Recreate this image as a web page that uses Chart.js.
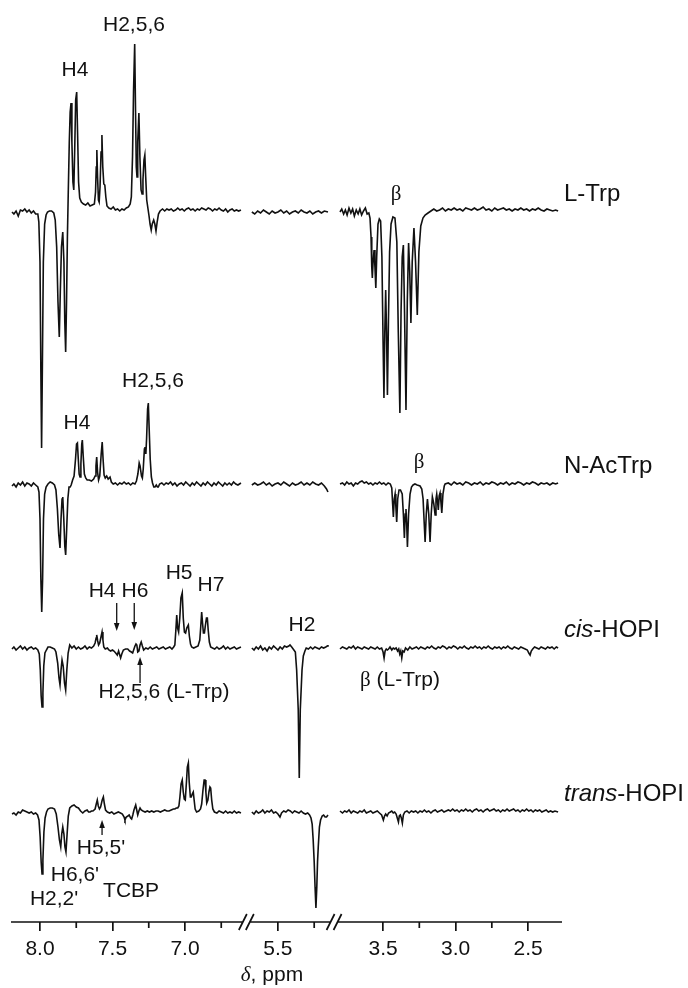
<html>
<script src="https://cdn.jsdelivr.net/npm/chart.js@4.4.0/dist/chart.umd.min.js"></script>
<body style="margin:0;background:#fff">
<div style="width:688px;height:988px"><canvas id="nmr"></canvas></div>
<script>
// axis ticks (ppm)
const tickPpm = [8.0, 7.5, 7.0, 5.5, 3.5, 3.0, 2.5];
const minorPpm = [7.75, 7.25, 6.75, 5.25, 3.25, 2.75];
const spectra = ['L-Trp', 'N-AcTrp', 'cis-HOPI', 'trans-HOPI'];
const baselines = [710, 438, 274, 110];

// [ppm, intensity], three windows per spectrum
const ltrpA = [[8.193,0],[8.18,-2],[8.165,1],[8.15,-4],[8.135,2],[8.12,1],[8.105,3],[8.09,0],[8.075,2],[8.06,-1],[8.045,1],[8.03,-2],[8.015,-2],
  [8.008,-10],[8.0,-50],[7.994,-160],[7.989,-236],[7.984,-160],[7.977,-50],[7.968,-12],[7.958,-3],[7.948,0],[7.935,1],[7.92,1],[7.905,-1],[7.895,-8],[7.885,-35],[7.876,-90],[7.867,-125],[7.86,-80],[7.852,-35],[7.843,-20],[7.835,-50],[7.829,-110],[7.823,-140],[7.817,-90],[7.811,-25],
  [7.805,20],[7.798,70],[7.792,100],[7.786,109],[7.78,70],[7.773,30],[7.767,22],[7.761,60],[7.754,112],[7.747,120],[7.741,80],[7.734,30],[7.726,14],[7.715,10],[7.70,8],[7.685,7],[7.67,9],[7.655,6],[7.64,7],[7.625,8],
  [7.617,20],[7.612,45],[7.608,62],[7.603,35],[7.597,12],[7.592,10],[7.586,25],[7.579,60],[7.573,77],[7.567,45],[7.56,28],[7.553,27],[7.546,15],[7.538,6],[7.525,4],[7.51,3],[7.495,5],[7.48,2],[7.465,3],[7.45,1],[7.435,3],[7.42,2],[7.405,4],[7.39,5],
  [7.378,8],[7.37,15],[7.362,55],[7.355,120],[7.347,168],[7.341,100],[7.336,45],[7.331,35],[7.326,70],[7.318,99],[7.311,55],[7.303,22],[7.296,18],[7.29,32],[7.283,52],[7.277,57],[7.271,35],[7.264,12],[7.256,4],[7.248,-4],[7.241,-12],[7.233,-18],[7.226,-12],[7.216,-8],[7.208,-12],[7.2,-19],[7.192,-10],[7.183,-2],[7.172,1],
  [7.155,3],[7.14,1],[7.125,3],[7.11,2],[7.095,3],[7.08,1],[7.065,2],[7.05,4],[7.035,2],[7.02,3],[7.005,1],[6.99,3],[6.975,4],[6.96,2],[6.945,3],[6.93,1],[6.915,3],[6.9,2],[6.885,4],[6.87,3],[6.855,2],[6.84,4],[6.825,3],[6.81,1],[6.795,3],[6.78,2],[6.765,4],[6.75,2],[6.735,1],[6.72,3],[6.705,0],[6.69,2],[6.675,3],[6.66,1],[6.645,2],[6.63,1],[6.614,2]];
const ltrpB = [[5.68,0],[5.66,-2],[5.64,1],[5.62,-1],[5.60,2],[5.58,0],[5.56,-2],[5.54,1],[5.52,-1],[5.50,0],[5.48,2],[5.46,-1],[5.44,1],[5.42,-2],[5.40,0],[5.38,1],[5.36,-1],[5.34,2],[5.32,0],[5.30,-1],[5.28,1],[5.26,-2],[5.24,0],[5.22,1],[5.20,-1],[5.18,1],[5.155,0]];
const ltrpC = [[3.797,0],[3.785,3],[3.772,-2],[3.76,2],[3.748,-3],[3.735,4],[3.722,-1],[3.71,3],[3.698,-4],[3.685,2],[3.672,-2],[3.66,3],[3.648,-3],[3.635,1],[3.622,4],[3.61,-2],[3.598,-1],[3.59,-6],
  [3.583,-25],[3.578,-55],[3.574,-66],[3.569,-50],[3.562,-38],[3.556,-55],[3.55,-76],[3.544,-45],[3.535,-12],[3.526,-7],[3.517,-9],[3.508,-45],[3.5,-130],[3.494,-186],[3.488,-120],[3.482,-78],[3.476,-120],[3.47,-183],[3.463,-110],[3.455,-40],[3.445,-12],[3.432,-5],[3.418,-6],
  [3.405,-30],[3.395,-120],[3.384,-201],[3.376,-100],[3.368,-45],[3.36,-33],[3.352,-100],[3.342,-198],[3.333,-90],[3.324,-31],[3.316,-60],[3.308,-111],[3.299,-50],[3.287,-16],[3.276,-50],[3.264,-103],[3.253,-40],[3.24,-14],[3.225,-6],[3.21,-3],[3.19,-1],[3.17,1],
  [3.15,3],[3.13,1],[3.11,2],[3.09,4],[3.07,1],[3.05,3],[3.03,2],[3.01,4],[2.99,2],[2.97,3],[2.95,1],[2.93,4],[2.91,3],[2.89,2],[2.87,4],[2.85,2],[2.83,3],[2.81,5],[2.79,2],[2.77,3],[2.75,1],[2.73,4],[2.71,2],[2.69,3],[2.67,4],[2.65,2],[2.63,3],[2.61,1],[2.59,3],[2.57,2],[2.55,4],[2.53,2],[2.51,3],[2.49,1],[2.47,3],[2.45,2],[2.43,4],[2.41,2],[2.39,1],[2.37,3],[2.35,2],[2.33,1],[2.31,2],[2.293,1]];

const nacA = [[8.193,-2],[8.18,0],[8.165,-3],[8.15,1],[8.135,-1],[8.12,2],[8.105,-2],[8.09,1],[8.075,0],[8.06,-2],[8.045,1],[8.03,-1],[8.015,-3],[8.007,-8],[8.0,-35],[7.994,-95],[7.988,-128],[7.982,-95],[7.976,-35],[7.968,-10],[7.958,-3],[7.945,0],[7.93,2],[7.915,1],[7.90,-1],
  [7.89,-6],[7.88,-25],[7.871,-50],[7.862,-64],[7.855,-35],[7.848,-15],[7.843,-13],[7.836,-35],[7.829,-62],[7.823,-71],[7.816,-45],[7.808,-15],[7.8,-3],[7.792,-3],[7.785,-1],[7.775,4],[7.765,8],[7.755,25],[7.748,40],[7.742,41],[7.736,25],[7.73,10],[7.724,7],[7.718,20],[7.712,40],[7.708,44],[7.702,28],[7.694,10],[7.685,6],[7.675,4],[7.66,4],[7.645,3],[7.63,5],
  [7.62,8],[7.614,18],[7.609,27],[7.603,12],[7.596,4],[7.588,8],[7.578,30],[7.571,42],[7.565,25],[7.558,9],[7.55,6],[7.54,8],[7.53,5],[7.517,7],[7.508,2],[7.495,0],[7.48,1],[7.465,-1],[7.45,1],[7.435,0],[7.42,2],[7.405,0],[7.39,1],[7.375,-1],[7.36,1],[7.345,0],
  [7.335,3],[7.325,10],[7.316,21],[7.31,18],[7.3,8],[7.294,6],[7.288,15],[7.28,35],[7.276,37],[7.27,30],[7.265,45],[7.258,75],[7.253,81],[7.247,55],[7.24,25],[7.232,7],[7.224,1],[7.215,-3],[7.207,-3],[7.198,-1],[7.19,-3],[7.184,-3],[7.175,0],[7.16,1],
  [7.145,-1],[7.13,1],[7.115,0],[7.10,2],[7.085,-1],[7.07,1],[7.055,-2],[7.04,0],[7.025,1],[7.01,-1],[6.995,2],[6.98,0],[6.965,-2],[6.95,1],[6.935,-1],[6.92,2],[6.905,0],[6.89,-2],[6.875,1],[6.86,-1],[6.845,2],[6.83,0],[6.815,-2],[6.80,1],[6.785,-1],[6.77,2],[6.755,0],[6.74,-2],[6.725,1],[6.71,-1],[6.695,1],[6.68,-1],[6.665,2],[6.65,0],[6.635,-1],[6.614,1]];
const nacB = [[5.68,-1],[5.66,1],[5.64,-1],[5.62,0],[5.60,2],[5.58,-1],[5.56,1],[5.54,-2],[5.52,0],[5.50,1],[5.48,-1],[5.46,2],[5.44,0],[5.42,-2],[5.40,1],[5.38,-1],[5.36,0],[5.34,2],[5.32,-1],[5.30,1],[5.28,-1],[5.26,2],[5.24,0],[5.22,-1],[5.20,1],[5.18,-2],[5.165,-5],[5.155,-8]];
const nacC = [[3.797,0],[3.78,1],[3.765,-1],[3.75,2],[3.735,0],[3.72,1],[3.705,-2],[3.69,1],[3.675,0],[3.66,2],[3.645,3],[3.63,1],[3.615,2],[3.60,0],[3.585,1],[3.57,-1],[3.555,1],[3.54,0],[3.525,2],[3.51,0],[3.495,1],[3.48,-1],[3.465,1],[3.45,0],
  [3.44,-4],[3.434,-20],[3.429,-33],[3.423,-15],[3.417,-10],[3.412,-22],[3.406,-38],[3.399,-15],[3.39,-6],[3.38,-6],[3.368,-10],[3.36,-30],[3.353,-54],[3.347,-30],[3.342,-25],[3.337,-40],[3.332,-63],[3.324,-30],[3.314,-10],[3.304,-3],[3.293,-1],[3.28,0],[3.265,-1],[3.245,-2],
  [3.233,-5],[3.224,-15],[3.216,-40],[3.21,-58],[3.202,-30],[3.194,-15],[3.185,-30],[3.176,-58],[3.168,-30],[3.16,-13],[3.15,-20],[3.141,-31],[3.135,-15],[3.13,-10],[3.124,-18],[3.119,-26],[3.113,-12],[3.107,-9],[3.101,-18],[3.095,-29],[3.087,-10],[3.078,-2],[3.072,0],
  [3.05,1],[3.03,-1],[3.01,2],[2.99,0],[2.97,1],[2.95,-1],[2.93,2],[2.91,1],[2.89,-1],[2.87,1],[2.85,0],[2.83,2],[2.81,-1],[2.79,1],[2.77,0],[2.75,2],[2.73,1],[2.71,-1],[2.69,1],[2.67,0],[2.65,2],[2.63,-1],[2.61,1],[2.59,0],[2.57,2],[2.55,1],[2.53,-1],[2.51,1],[2.49,0],[2.47,2],[2.45,1],[2.43,-1],[2.41,1],[2.39,0],[2.37,1],[2.35,-1],[2.33,1],[2.31,0],[2.293,1]];

const cisA = [[8.193,-1],[8.18,1],[8.165,-2],[8.15,0],[8.135,2],[8.12,-1],[8.105,1],[8.09,-2],[8.075,0],[8.06,1],[8.045,-1],[8.03,0],[8.015,-2],[8.005,-6],[7.998,-22],[7.992,-48],[7.986,-59],[7.98,-45],[7.974,-18],[7.966,-5],[7.956,-2],[7.945,1],[7.93,1],[7.915,0],[7.90,-1],
  [7.89,-4],[7.878,-15],[7.869,-30],[7.862,-37],[7.855,-22],[7.848,-12],[7.84,-18],[7.831,-35],[7.823,-42],[7.815,-22],[7.806,-5],[7.795,3],[7.78,0],[7.765,2],[7.75,-1],[7.735,1],[7.72,-1],[7.705,0],[7.69,2],[7.675,-1],[7.66,1],[7.645,0],[7.63,2],
  [7.62,5],[7.613,10],[7.609,13],[7.602,7],[7.596,3],[7.588,5],[7.578,12],[7.572,16],[7.566,8],[7.56,1],[7.55,-1],[7.535,0],[7.525,-2],[7.513,-3],[7.5,-2],[7.49,-3],[7.478,-5],[7.467,-7],[7.458,-3],[7.452,-6],[7.444,-10],[7.436,-6],[7.425,-2],[7.41,-1],[7.395,-1],[7.382,-3],[7.37,-4],[7.361,-5],[7.352,-1],[7.345,2],[7.338,4],[7.332,3],[7.326,-4],[7.318,-3],[7.31,3],[7.302,6],[7.294,2],[7.285,-2],
  [7.27,0],[7.255,-1],[7.24,1],[7.225,-1],[7.21,0],[7.195,1],[7.18,-1],[7.165,0],[7.15,1],[7.135,-1],[7.12,0],[7.105,1],[7.09,-1],[7.078,1],
  [7.07,3],[7.063,18],[7.057,33],[7.051,20],[7.044,16],[7.036,30],[7.028,50],[7.019,55],[7.012,30],[7.004,16],[6.996,15],[6.988,20],[6.977,23],[6.97,12],[6.962,4],[6.954,1],[6.94,0],[6.925,1],[6.91,2],
  [6.898,8],[6.892,20],[6.885,36],[6.879,25],[6.873,15],[6.866,15],[6.86,22],[6.852,30],[6.846,30],[6.84,18],[6.832,6],[6.823,1],[6.81,0],[6.795,-1],[6.78,1],[6.765,-1],[6.75,0],[6.735,2],[6.72,-1],[6.705,1],[6.69,-1],[6.675,0],[6.66,1],[6.645,-1],[6.63,0],[6.614,1]];
const cisB = [[5.68,0],[5.665,-2],[5.65,1],[5.635,-1],[5.62,2],[5.605,-2],[5.59,0],[5.575,-3],[5.56,1],[5.545,-1],[5.53,2],[5.515,0],[5.50,-2],[5.485,1],[5.47,-1],[5.455,2],[5.44,1],[5.425,2],[5.417,3],[5.405,1],[5.39,-2],
  [5.38,-4],[5.371,-22],[5.36,-62],[5.353,-130],[5.346,-62],[5.334,-22],[5.325,-8],[5.314,-3],[5.305,0],[5.29,-1],[5.275,1],[5.26,-1],[5.245,1],[5.23,0],[5.215,-1],[5.20,1],[5.185,0],[5.17,1],[5.16,2],[5.155,3]];
const cisC = [[3.797,-1],[3.78,1],[3.765,0],[3.75,-1],[3.735,1],[3.72,0],[3.705,2],[3.69,-1],[3.675,1],[3.66,0],[3.645,-1],[3.63,1],[3.615,0],[3.60,-1],[3.585,1],[3.57,0],[3.555,-1],[3.54,1],[3.525,-1],[3.51,0],
  [3.5,-4],[3.493,-10],[3.486,-3],[3.478,-1],[3.47,-2],[3.462,-1],[3.452,1],[3.44,-2],[3.43,0],[3.42,-1],[3.41,0],[3.4,-3],[3.392,-1],[3.385,-6],[3.378,-3],[3.371,-10],[3.364,-3],[3.355,-4],[3.345,0],[3.33,-2],[3.315,1],[3.30,-1],[3.285,0],[3.27,1],
  [3.255,-1],[3.24,1],[3.225,0],[3.21,-1],[3.195,1],[3.18,0],[3.165,2],[3.15,0],[3.135,-1],[3.12,1],[3.105,0],[3.09,2],[3.075,1],[3.06,-1],[3.045,1],[3.03,0],[3.015,2],[3.0,1],[2.985,-1],[2.97,1],[2.955,0],[2.94,2],[2.925,0],[2.91,-1],[2.895,1],[2.88,0],[2.865,2],[2.85,0],[2.835,1],[2.82,-1],[2.805,1],[2.79,0],[2.775,2],[2.76,0],[2.745,-1],[2.73,1],[2.715,0],[2.70,1],[2.685,-1],[2.67,1],[2.655,0],[2.64,2],[2.625,0],[2.61,-1],[2.595,1],[2.58,0],[2.565,-1],[2.55,1],[2.535,0],[2.52,-1],
  [2.505,-2],[2.495,-5],[2.486,-7],[2.478,-3],[2.468,-1],[2.455,1],[2.44,0],[2.425,-1],[2.41,1],[2.395,0],[2.38,-1],[2.365,1],[2.35,0],[2.335,1],[2.32,-1],[2.305,1],[2.293,0]];

const transA = [[8.193,-2],[8.18,-1],[8.165,-3],[8.15,0],[8.135,-1],[8.12,2],[8.105,1],[8.09,0],[8.075,-1],[8.06,0],[8.045,-2],[8.03,-1],[8.017,-3],[8.007,-8],[7.999,-25],[7.992,-50],[7.986,-62],[7.98,-48],[7.973,-20],[7.965,-6],[7.955,0],[7.945,3],[7.93,4],[7.915,4],[7.90,3],
  [7.888,-2],[7.876,-15],[7.866,-28],[7.857,-35],[7.85,-22],[7.843,-15],[7.835,-22],[7.828,-35],[7.821,-40],[7.813,-22],[7.805,-4],[7.795,4],[7.78,6],[7.765,7],[7.75,5],[7.735,4],[7.72,1],[7.705,-1],[7.69,1],[7.675,2],[7.665,0],[7.655,0],[7.645,1],[7.635,1],
  [7.62,3],[7.612,8],[7.605,12],[7.598,6],[7.59,3],[7.582,5],[7.571,12],[7.563,15],[7.556,8],[7.548,2],[7.535,0],[7.52,-1],[7.505,0],[7.49,-2],[7.475,-1],[7.46,0],[7.445,-1],[7.432,-2],[7.42,-5],[7.414,-8],[7.405,-5],[7.394,-4],[7.385,-3],[7.375,-6],[7.368,-7],[7.36,-3],[7.352,2],[7.34,7],[7.333,2],[7.326,-3],[7.318,1],[7.31,4],[7.302,2],[7.29,1],
  [7.275,0],[7.26,1],[7.245,0],[7.23,1],[7.215,0],[7.2,1],[7.185,1],[7.17,0],[7.155,1],[7.14,2],[7.125,1],[7.11,1],[7.095,2],[7.08,3],[7.07,3],[7.06,4],[7.05,4],
  [7.042,6],[7.035,15],[7.027,28],[7.019,32],[7.012,20],[7.005,13],[6.998,12],[6.99,30],[6.984,45],[6.977,49],[6.971,30],[6.963,15],[6.957,15],[6.95,18],[6.943,20],[6.937,12],[6.93,3],[6.92,0],[6.905,1],
  [6.893,3],[6.885,8],[6.876,22],[6.868,32],[6.862,32],[6.856,20],[6.85,9],[6.842,12],[6.835,20],[6.828,25],[6.823,24],[6.816,12],[6.808,3],[6.797,0],[6.78,-1],[6.765,1],[6.75,0],[6.735,-1],[6.72,1],[6.705,-1],[6.69,0],[6.675,-1],[6.66,1],[6.645,-1],[6.63,0],[6.614,-1]];
const transB = [[5.68,0],[5.665,-2],[5.65,1],[5.635,-1],[5.62,0],[5.605,2],[5.59,-1],[5.575,1],[5.56,0],[5.545,2],[5.53,-1],[5.515,0],[5.50,-2],[5.486,-5],[5.475,-1],[5.46,1],[5.445,0],[5.43,2],[5.415,1],[5.40,-1],[5.385,1],[5.37,0],[5.355,-1],[5.34,1],[5.325,-1],[5.31,-2],[5.295,-1],
  [5.282,-3],[5.272,-6],[5.264,-12],[5.257,-28],[5.25,-50],[5.244,-75],[5.238,-96],[5.232,-75],[5.227,-50],[5.222,-35],[5.214,-15],[5.206,-8],[5.195,-4],[5.185,-3],[5.175,-5],[5.165,-5],[5.155,-3]];
const transC = [[3.797,1],[3.78,-1],[3.765,1],[3.75,0],[3.735,2],[3.72,-1],[3.705,1],[3.69,0],[3.675,-1],[3.66,1],[3.645,0],[3.63,2],[3.615,-1],[3.60,0],[3.585,1],[3.57,-1],[3.555,0],[3.54,1],[3.525,-1],
  [3.51,-3],[3.498,-8],[3.49,-4],[3.482,-2],[3.472,-4],[3.462,-1],[3.45,0],[3.44,1],[3.43,-1],[3.42,0],[3.41,-2],[3.402,-6],[3.394,-10],[3.388,-4],[3.381,-3],[3.374,-6],[3.367,-11],[3.36,-3],[3.35,0],
  [3.335,1],[3.32,-1],[3.305,1],[3.29,0],[3.275,1],[3.26,-1],[3.245,1],[3.23,0],[3.215,2],[3.2,0],[3.185,1],[3.17,-1],[3.155,1],[3.14,2],[3.125,0],[3.11,1],[3.095,2],[3.08,0],[3.065,1],[3.05,2],[3.035,1],[3.02,3],[3.005,1],[2.99,2],[2.975,0],[2.96,2],[2.945,1],[2.93,3],[2.915,1],[2.90,2],[2.885,0],[2.87,2],[2.855,3],[2.84,1],[2.825,2],[2.81,0],[2.795,2],[2.78,3],[2.765,1],[2.75,2],[2.735,3],[2.72,1],[2.705,2],[2.69,0],[2.675,2],[2.66,1],[2.645,3],[2.63,1],[2.615,2],[2.60,3],[2.585,1],[2.57,2],[2.555,0],[2.54,2],[2.525,1],[2.51,3],[2.495,1],[2.48,2],[2.465,0],[2.45,2],[2.435,1],[2.42,2],[2.405,0],[2.39,1],[2.375,2],[2.36,0],[2.345,1],[2.33,0],[2.315,1],[2.293,0]];

const windows = [[ltrpA, ltrpB, ltrpC], [nacA, nacB, nacC], [cisA, cisB, cisC], [transA, transB, transC]];

// peak labels: text, ppm, height
const peakLabels = [
  ['H4', 7.759, 852], ['H2,5,6', 7.352, 897], ['β', 3.41, 728],
  ['H4', 7.745, 499], ['H2,5,6', 7.221, 541], ['β', 3.252, 460],
  ['H4', 7.572, 331], ['H6', 7.345, 331], ['H5', 7.041, 349], ['H7', 6.821, 337],
  ['H2,5,6 (L-Trp)', 7.145, 230], ['H2', 5.334, 297], ['β (L-Trp)', 3.383, 242],
  ["H5,5'", 7.579, 74], ["H6,6'", 7.759, 47], ['TCBP', 7.372, 31], ["H2,2'", 7.903, 23]
];
// arrows: ppm, from, to (head at "to")
const arrows = [[7.471, 319, 291], [7.35, 319, 292], [7.31, 239, 265], [7.572, 87, 102]];

// the axis is broken twice: 8.2-6.6, 5.68-5.15, 3.8-2.29 ppm
function toU(p) {
  if (p > 6) return 8.2 - p;
  if (p > 4.5) return 7.341 - p;
  return 6.066 - p;
}
const breaksU = [1.623, 2.228];

const SANS = "Arial, 'Liberation Sans', sans-serif";
const SERIF = "'Liberation Serif', 'Times New Roman', serif";

function drawRuns(ctx, runs, x, y, align) {
  let w = 0;
  runs.forEach(r => { ctx.font = r[1]; w += ctx.measureText(r[0]).width; });
  let cx = align === 'center' ? x - w / 2 : x;
  ctx.textAlign = 'left';
  runs.forEach(r => { ctx.font = r[1]; ctx.fillText(r[0], cx, y); cx += ctx.measureText(r[0]).width; });
}

function splitBeta(text, size) {
  if (text[0] !== 'β') return [[text, size + 'px ' + SANS]];
  return [['β', size + 'px ' + SERIF], [text.slice(1), size + 'px ' + SANS]];
}

const decor = {
  id: 'decor',
  afterDraw(chart) {
    const ctx = chart.ctx, xs = chart.scales.x, ys = chart.scales.y;
    const y0 = chart.chartArea.bottom;
    ctx.save();
    ctx.strokeStyle = '#111';
    ctx.fillStyle = '#111';
    ctx.lineWidth = 1.7;
    // axis line with gaps
    const b = breaksU.map(u => xs.getPixelForValue(u));
    const parts = [[xs.left, b[0] - 4], [b[0] + 4, b[1] - 4], [b[1] + 4, xs.right]];
    ctx.beginPath();
    parts.forEach(p => { ctx.moveTo(p[0], y0); ctx.lineTo(p[1], y0); });
    b.forEach(bx => {
      [-3.5, 3.5].forEach(d => { ctx.moveTo(bx + d - 4, y0 + 8); ctx.lineTo(bx + d + 4, y0 - 8); });
    });
    minorPpm.forEach(p => {
      const x = xs.getPixelForValue(toU(p));
      ctx.moveTo(x, y0); ctx.lineTo(x, y0 + 6);
    });
    ctx.stroke();

    // axis title
    ctx.textBaseline = 'middle';
    drawRuns(ctx, [['δ', 'italic 21px ' + SERIF], [', ppm', '21px ' + SANS]], 272, 975, 'center');

    // spectrum names
    const names = [[['L-Trp', '24px ' + SANS]], [['N-AcTrp', '24px ' + SANS]],
      [['cis', 'italic 24px ' + SANS], ['-HOPI', '24px ' + SANS]],
      [['trans', 'italic 24px ' + SANS], ['-HOPI', '24px ' + SANS]]];
    names.forEach((n, i) => {
      drawRuns(ctx, n, xs.right + 2, ys.getPixelForValue(baselines[i]) - 18, 'left');
    });

    // peak labels
    peakLabels.forEach(l => {
      drawRuns(ctx, splitBeta(l[0], 21), xs.getPixelForValue(toU(l[1])), ys.getPixelForValue(l[2]), 'center');
    });

    // arrows
    ctx.lineWidth = 1.3;
    arrows.forEach(a => {
      const x = xs.getPixelForValue(toU(a[0]));
      const ya = ys.getPixelForValue(a[1]), yb = ys.getPixelForValue(a[2]);
      const dir = yb > ya ? 1 : -1;
      ctx.beginPath(); ctx.moveTo(x, ya); ctx.lineTo(x, yb - dir * 5); ctx.stroke();
      ctx.beginPath(); ctx.moveTo(x, yb); ctx.lineTo(x - 2.8, yb - dir * 8); ctx.lineTo(x + 2.8, yb - dir * 8); ctx.closePath(); ctx.fill();
    });
    ctx.restore();
  }
};

const datasets = [];
windows.forEach((segs, i) => {
  segs.forEach(seg => {
    datasets.push({
      label: spectra[i],
      data: seg.map(d => ({ x: toU(d[0]), y: baselines[i] + d[1] })),
      borderColor: '#111',
      borderWidth: 1.6,
      pointRadius: 0,
      tension: 0,
      fill: false
    });
  });
});

new Chart(document.getElementById('nmr'), {
  type: 'line',
  data: { datasets: datasets },
  options: {
    responsive: true,
    maintainAspectRatio: false,
    animation: false,
    events: [],
    layout: { padding: { left: 11, right: 126, top: 0, bottom: 0 } },
    plugins: { legend: { display: false }, tooltip: { enabled: false } },
    scales: {
      x: {
        type: 'linear',
        min: 0,
        max: 3.80,
        afterFit: (scale) => { scale.height = 66; },
        afterBuildTicks: (axis) => { axis.ticks = tickPpm.map(p => ({ value: toU(p) })); },
        border: { display: false },
        grid: { drawOnChartArea: false, drawTicks: true, tickLength: 9, color: '#111', lineWidth: 1.7 },
        ticks: {
          autoSkip: false, maxRotation: 0, padding: 6, color: '#111',
          font: { size: 21, family: SANS },
          callback: (v, i) => tickPpm[i].toFixed(1)
        }
      },
      y: { type: 'linear', display: false, min: 0, max: 922 }
    }
  },
  plugins: [decor]
});
</script>
</body>
</html>
